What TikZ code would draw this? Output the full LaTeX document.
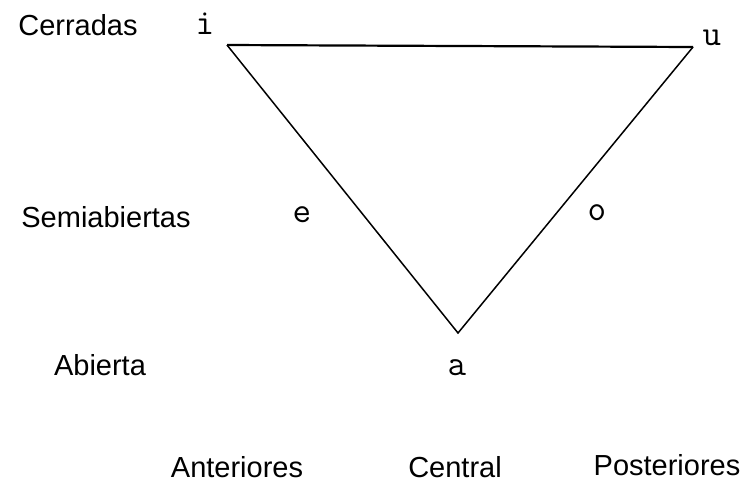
\documentclass[tikz,border=0pt]{standalone}
\usepackage{fontspec}
\setmainfont{Liberation Sans}
\begin{document}
\begin{tikzpicture}[x=1pt,y=-1pt,
  lab/.style={inner sep=0pt,font=\fontsize{29}{31}\selectfont},
  vow/.style={inner sep=0pt,font=\ttfamily\fontsize{36}{38}\selectfont},
  side/.style={line width=1.5pt,line join=miter}]
\useasboundingbox (0,0) rectangle (747,483);
\coordinate (I) at (227,45);
\coordinate (U) at (693,47);
\coordinate (A) at (458,333);
\draw[side,line width=2.2pt] (I) -- (U);
\draw[side] (U) -- (A) -- (I);
\node[lab] (cer) at (78,25) {Cerradas};
\node[lab] (semi) at (106,217) {Semiabiertas};
\node[lab] (abi) at (100,365) {Abierta};
\node[lab] (ant) at (237,467) {Anteriores};
\node[lab] (cen) at (455,467) {Central};
\node[lab] (pos) at (667,465) {Posteriores};
\node[vow] (vi) at (205,24) {i};
\node[vow] (vu) at (712,38) {u};
\node[vow] (ve) at (302,215) {e};
\node[vow] (vo) at (597,213) {o};
\node[vow] (va) at (457,368) {a};
\end{tikzpicture}
\end{document}
